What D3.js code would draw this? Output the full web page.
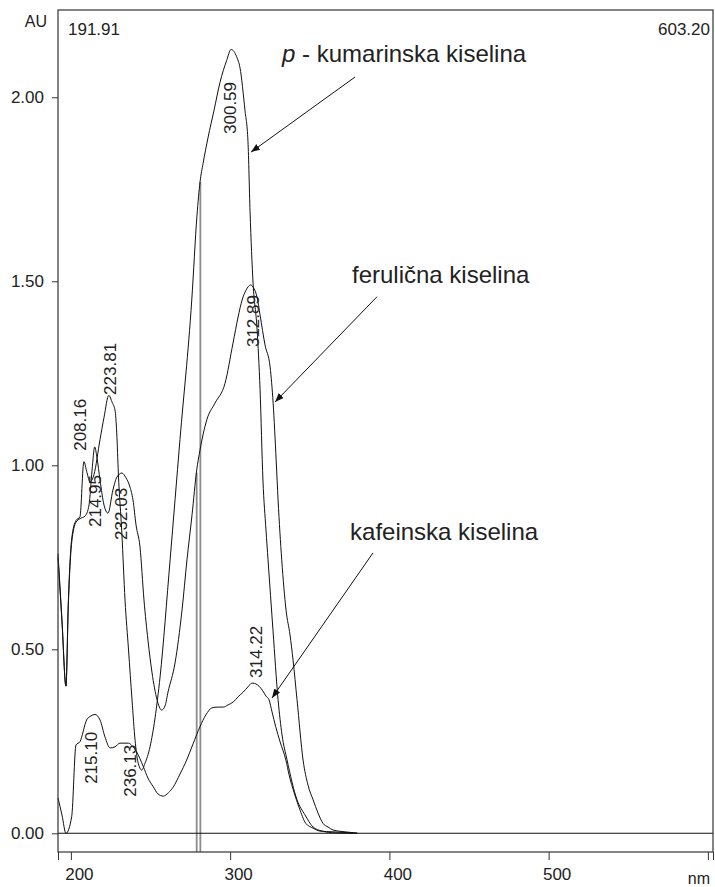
<!DOCTYPE html>
<html><head><meta charset="utf-8">
<script src="https://cdn.jsdelivr.net/npm/d3@7"></script>
<style>
body{margin:0;background:#fff}
svg{display:block}
text{font-family:"Liberation Sans",Arial,Helvetica,sans-serif;fill:#222}
</style>
</head><body><svg id="c" width="715" height="887"></svg>
<script>
// ---------- data ----------
const wavelengthRange = [191.91, 603.20];
const absorbanceRange = [-0.0508, 2.2372];
const cornerLabels = ["191.91", "603.20"];
const yTicks = [0, 0.5, 1.0, 1.5, 2.0];
const yTickLabels = ["0.00", "0.50", "1.00", "1.50", "2.00"];
const xTicks = [200, 300, 400, 500, 600];
const xTickLabels = ["200", "300", "400", "500", ""];
const yUnit = "AU";
const xUnit = "nm";

// p-kumarinska kiselina
const kumarinskaNm = [191.91,194.4,196.9,198.4,200.5,203.2,205.7,208.16,210.1,212.0,214.5,218.3,220.8,223.81,226.0,227.7,228.8,229.8,232.0,234.0,236.2,238.4,240.3,242.1,244.5,246.5,249.7,256.0,262.3,268.5,275.9,279.2,281.1,283.0,286.1,289.9,293.6,297.8,300.59,304.1,306.2,309.3,311.2,312.5,314.4,316.9,318.8,320.6,322.5,323.8,326.9,330.1,332.6,335.7,342.0,347.0,352.1,357.8,365.9,380.0];
const kumarinskaAU = [0.76,0.58,0.40,0.63,0.80,0.85,0.86,1.01,0.98,0.955,0.975,1.07,1.13,1.19,1.17,1.15,1.088,0.979,0.816,0.634,0.498,0.362,0.253,0.194,0.172,0.19,0.235,0.425,0.743,1.07,1.449,1.68,1.77,1.82,1.89,1.965,2.04,2.10,2.13,2.11,2.08,1.965,1.88,1.69,1.495,1.37,1.205,0.96,0.825,0.743,0.552,0.363,0.267,0.20,0.091,0.05,0.017,0.006,0.001,0];

// ferulična kiselina
const ferulicnaNm = [191.91,194.4,196.9,198.4,200.5,203.2,205.7,208.9,211.4,213.3,214.95,216.4,218.3,220.8,223.3,226.4,228.9,232.03,234.6,237.1,239.0,240.9,243.4,245.9,248.4,250.9,254.1,257.0,259.1,261.0,265.4,269.8,272.9,276.1,279.0,281.1,285.3,290.5,296.8,301.8,305.0,307.5,310.0,312.89,315.0,316.9,318.8,321.9,325.1,327.0,328.9,330.1,332.4,335.1,337.6,339.5,342.0,345.8,348.9,352.1,355.2,358.3,361.5,364.6,372.1,379.7];
const ferulicnaAU = [0.75,0.575,0.40,0.62,0.79,0.845,0.855,0.862,0.892,0.987,1.05,1.02,0.96,0.892,0.870,0.933,0.968,0.979,0.966,0.941,0.906,0.838,0.778,0.634,0.525,0.438,0.363,0.335,0.346,0.384,0.463,0.607,0.743,0.866,0.987,1.042,1.123,1.169,1.223,1.332,1.403,1.449,1.476,1.49,1.48,1.457,1.408,1.327,1.267,1.169,1.014,0.906,0.743,0.607,0.539,0.471,0.363,0.199,0.131,0.091,0.055,0.027,0.017,0.009,0.004,0.001];

// kafeinska kiselina
const kafeinskaNm = [191.91,194.4,196.9,200.5,203.2,205.7,209.9,212.6,215.10,218.3,221.4,224.6,227.7,230.8,236.13,238.4,241.3,245.5,248.4,251.8,254.7,258.1,261.2,264.3,268.5,272.7,276.7,281.1,284.8,288.6,292.4,295.7,298.7,302.0,305.0,308.3,311.2,313.6,314.22,316.2,320.2,322.5,324.4,326.3,328.6,331.4,335.0,337.0,340.2,343.4,347.5,352.1,356.4,364.6,377.1];
const kafeinskaAU = [0.096,0.05,0.0,0.045,0.24,0.249,0.308,0.319,0.323,0.308,0.262,0.232,0.235,0.245,0.245,0.238,0.221,0.181,0.15,0.126,0.107,0.101,0.110,0.126,0.161,0.199,0.243,0.290,0.322,0.341,0.343,0.343,0.349,0.357,0.371,0.384,0.398,0.408,0.408,0.406,0.389,0.373,0.363,0.330,0.290,0.248,0.199,0.159,0.110,0.069,0.027,0.014,0.006,0.004,0.001];

// peak labels: text, anchor wavelength, anchor absorbance
const peakTexts = ["300.59","312.89","223.81","208.16","214.95","232.03","215.10","236.13","314.22"];
const peakNm    = [299.6, 314.0, 224.2, 205.4, 214.8, 231.2, 212.3, 236.8, 315.9];
const peakAU    = [1.971, 1.392, 1.262, 1.110, 0.903, 0.868, 0.205, 0.170, 0.493];

// compound name labels and arrows
const compoundNames = ["kumarinska kiselina", "ferulična kiselina", "kafeinska kiselina"];
const compoundItalicPrefix = ["p", "", ""];
const compoundLabelNm = [332.6, 376.5, 375.3];
const compoundLabelAU = [2.096, 1.495, 0.797];
const arrowFromNm = [378.4, 392.2, 389.7];
const arrowFromAU = [2.055, 1.458, 0.762];
const arrowToNm   = [313.1, 328.2, 326.3];
const arrowToAU   = [1.851, 1.172, 0.368];

// vertical marker lines
const markerNm  = [279.0, 281.3];
const markerTop = [0.98, 1.77];

// ---------- drawing ----------
const svg = d3.select("#c");
const L = 58, R = 713, T = 10, B = 852;
const x = d3.scaleLinear().domain(wavelengthRange).range([L, R]);
const y = d3.scaleLinear().domain(absorbanceRange).range([B, T]);

// markers
markerNm.forEach((nm, i) => {
  svg.append("line").attr("x1", x(nm)).attr("x2", x(nm))
    .attr("y1", y(markerTop[i])).attr("y2", B)
    .attr("stroke", "#8c8c8c").attr("stroke-width", 1.8);
});

// zero line
svg.append("line").attr("x1", L).attr("x2", R).attr("y1", y(0)).attr("y2", y(0))
  .attr("stroke", "#111").attr("stroke-width", 1.1);

// curves
const line = d3.line().x(d => x(d[0])).y(d => y(d[1])).curve(d3.curveMonotoneX);
[[kumarinskaNm, kumarinskaAU],[ferulicnaNm, ferulicnaAU],[kafeinskaNm, kafeinskaAU]].forEach(([nm, au]) => {
  svg.append("path").datum(d3.zip(nm, au)).attr("d", line)
    .attr("fill", "none").attr("stroke", "#111").attr("stroke-width", 1);
});

// frame
svg.append("rect").attr("x", L).attr("y", T).attr("width", R - L).attr("height", B - T)
  .attr("fill", "none").attr("stroke", "#333").attr("stroke-width", 1.2);

// y axis
const yAxis = d3.axisLeft(y).tickValues(yTicks).tickFormat((d, i) => yTickLabels[i]).tickSize(6).tickPadding(8);
const gy = svg.append("g").attr("transform", `translate(${L},0)`).call(yAxis);
gy.select(".domain").remove();
gy.selectAll("line").attr("stroke", "#333");
gy.selectAll("text").attr("font-size", 17).attr("font-family", "Liberation Sans, Arial, sans-serif").attr("fill", "#222");

// x axis
const xAxis = d3.axisBottom(x).tickValues(xTicks.concat(wavelengthRange)).tickFormat((d, i) => i < xTickLabels.length ? xTickLabels[i] : "").tickSize(8).tickPadding(8);
const gx = svg.append("g").attr("transform", `translate(0,${B})`).call(xAxis);
gx.select(".domain").remove();
gx.selectAll("line").attr("stroke", "#333");
gx.selectAll("text").attr("font-size", 17).attr("dx", 8).attr("font-family", "Liberation Sans, Arial, sans-serif").attr("fill", "#222");

// units and corner labels
svg.append("text").attr("x", 47).attr("y", 27).attr("text-anchor", "end").attr("font-size", 16).text(yUnit);
svg.append("text").attr("x", 710).attr("y", 884).attr("text-anchor", "end").attr("font-size", 16).text(xUnit);
svg.append("text").attr("x", L + 10).attr("y", 35).attr("font-size", 17).text(cornerLabels[0]);
svg.append("text").attr("x", R - 3).attr("y", 35).attr("text-anchor", "end").attr("font-size", 17).text(cornerLabels[1]);

// peak labels
peakTexts.forEach((t, i) => {
  svg.append("text")
    .attr("transform", `translate(${x(peakNm[i])},${y(peakAU[i])}) rotate(-90)`)
    .attr("text-anchor", "middle").attr("dy", "0.36em").attr("font-size", 17).text(t);
});

// arrows
const defs = svg.append("defs");
defs.append("marker").attr("id", "ah").attr("markerUnits", "userSpaceOnUse")
  .attr("markerWidth", 10).attr("markerHeight", 8).attr("refX", 9).attr("refY", 3.5).attr("orient", "auto")
  .append("path").attr("d", "M0,0 L9,3.5 L0,7 Z").attr("fill", "#111");
compoundNames.forEach((n, i) => {
  svg.append("line")
    .attr("x1", x(arrowFromNm[i])).attr("y1", y(arrowFromAU[i]))
    .attr("x2", x(arrowToNm[i])).attr("y2", y(arrowToAU[i]))
    .attr("stroke", "#111").attr("stroke-width", 1).attr("marker-end", "url(#ah)");
  const t = svg.append("text").attr("x", x(compoundLabelNm[i])).attr("y", y(compoundLabelAU[i])).attr("font-size", 24);
  if (compoundItalicPrefix[i]) {
    t.append("tspan").attr("font-style", "italic").text(compoundItalicPrefix[i]);
    t.append("tspan").text(" - " + n);
  } else {
    t.text(n);
  }
});
</script>
</body></html>
